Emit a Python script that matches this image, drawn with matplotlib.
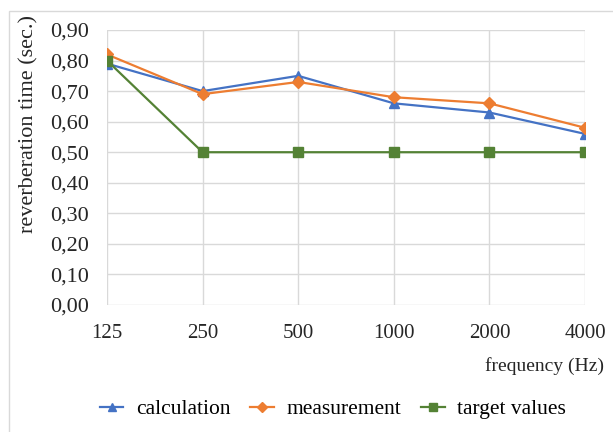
import matplotlib
matplotlib.use("Agg")
import matplotlib.pyplot as plt
from matplotlib.patches import Rectangle
from matplotlib.ticker import FuncFormatter

plt.rcParams["font.family"] = ["Liberation Serif", "DejaVu Serif"]

freqs = ["125", "250", "500", "1000", "2000", "4000"]
calculation = [0.79, 0.70, 0.75, 0.66, 0.63, 0.56]
measurement = [0.82, 0.69, 0.73, 0.68, 0.66, 0.58]
target = [0.80, 0.50, 0.50, 0.50, 0.50, 0.50]
yticks = [0.0, 0.1, 0.2, 0.3, 0.4, 0.5, 0.6, 0.7, 0.8, 0.9]

fig = plt.figure(figsize=(6.13, 4.32), dpi=100)
# outer chart frame (cropped at right/bottom like the source)
fig.patches.append(Rectangle((9 / 613, -0.1), 1.2, 1 - 11 / 432 + 0.1,
                             transform=fig.transFigure, fill=False,
                             edgecolor="#d9d9d9", linewidth=1.0))
ax = fig.add_axes([107 / 613, 1 - 305 / 432, (585 - 107) / 613, (305 - 30) / 432])

x = list(range(len(freqs)))
ax.plot(x, calculation, color="#4472C4", lw=1.6, marker="^", ms=7.5, label="calculation", zorder=3)
ax.plot(x, measurement, color="#ED7D31", lw=1.6, marker="D", ms=6, label="measurement", zorder=4)
ax.plot(x, target, color="#548235", lw=1.6, marker="s", ms=7, label="target values", zorder=5)

ax.set_xlim(0, len(freqs) - 1)
ax.set_ylim(0, 0.9)
ax.set_xticks(x)
ax.set_xticklabels(freqs)
ax.set_yticks(yticks)
ax.yaxis.set_major_formatter(FuncFormatter(lambda v, p: f"{v:.2f}".replace(".", ",")))
ax.tick_params(length=0, colors="#262626")
ax.tick_params(axis="x", pad=14, labelsize=15)
ax.tick_params(axis="y", pad=13, labelsize=16)
ax.grid(True, color="#d9d9d9", lw=1.0)
ax.set_axisbelow(True)
for s in ax.spines.values():
    s.set_visible(False)

fig.text(29 / 613, 1 - 124 / 432, "reverberation time (sec.)", rotation=90,
         ha="center", va="center", fontsize=16, color="#262626")
fig.text(604 / 613, 1 - 366 / 432, "frequency (Hz)", ha="right", va="center",
         fontsize=14, color="#262626")

fig.legend(loc="center", bbox_to_anchor=(333 / 613, 1 - 409 / 432), ncol=3,
           frameon=False, fontsize=15.5, handlelength=1.1, columnspacing=0.9,
           handletextpad=0.6, markerscale=0.8, borderpad=0)

fig.savefig("out.png", dpi=100)
